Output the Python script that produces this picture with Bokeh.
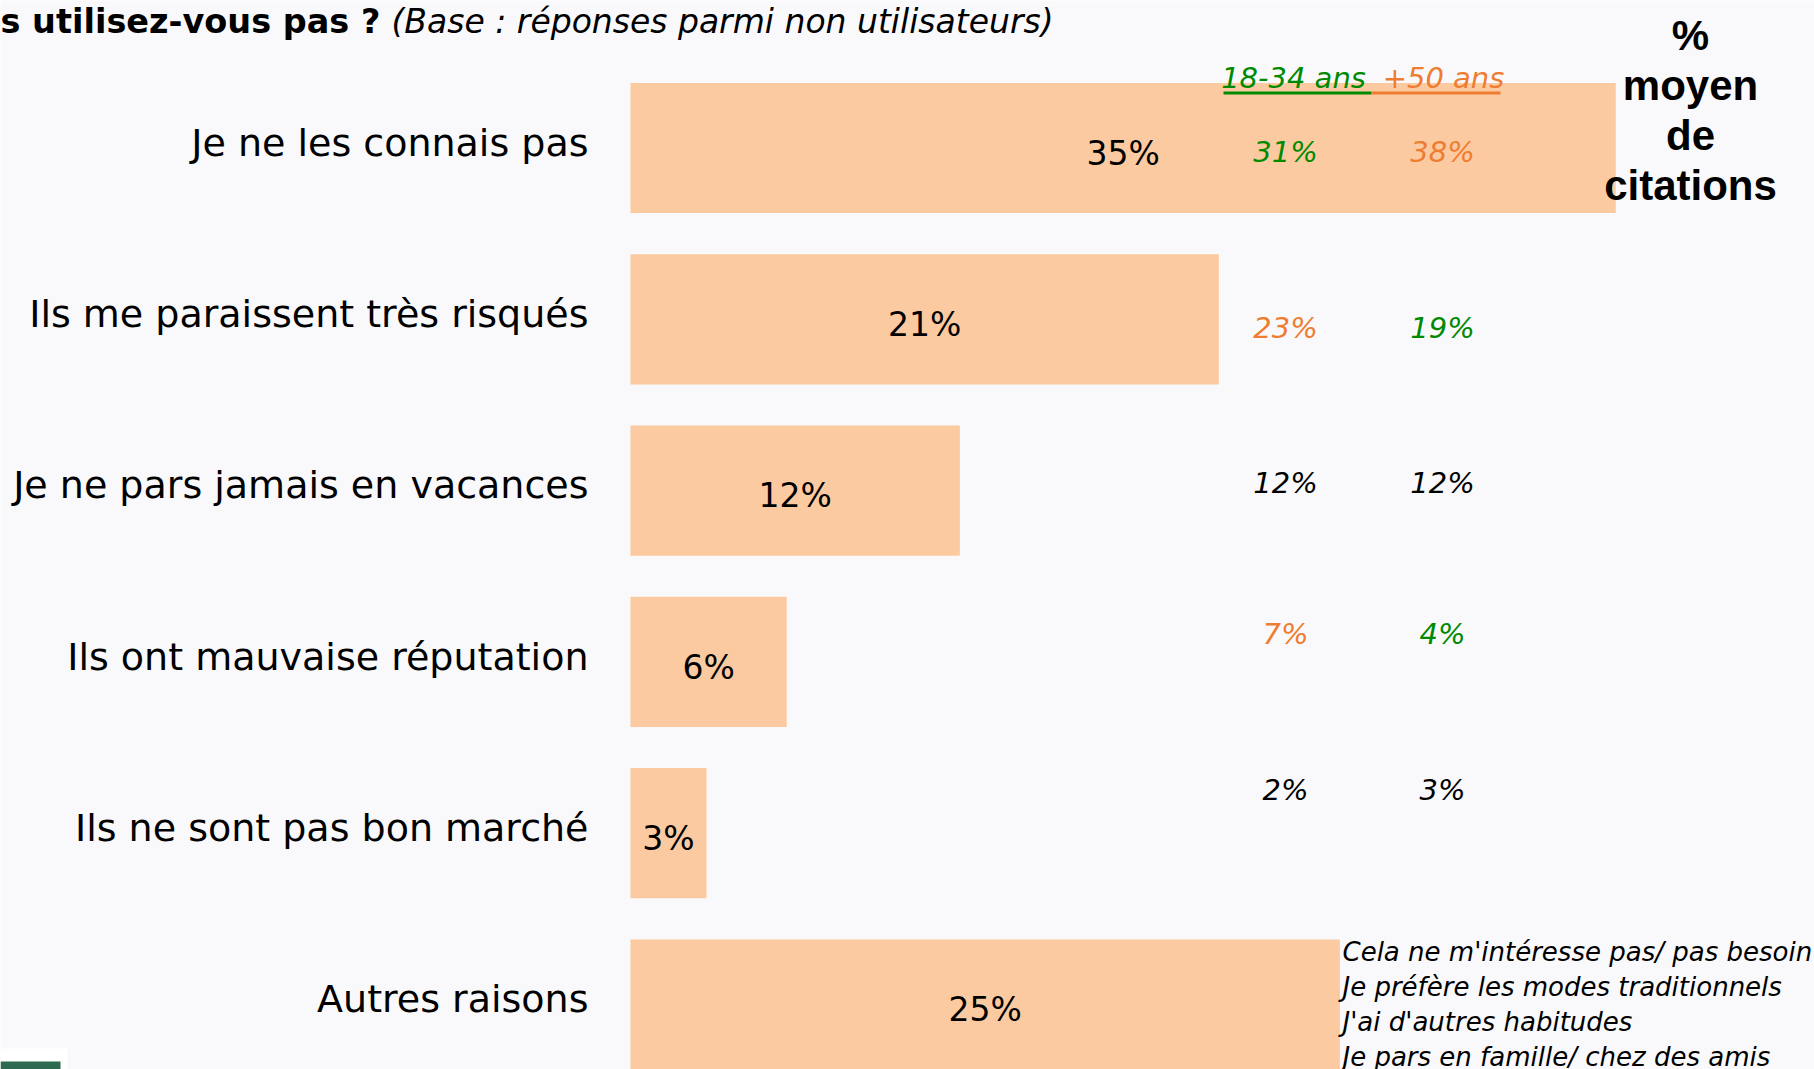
from bokeh.plotting import figure
from bokeh.models import Range1d
from bokeh.core.properties import value
from bokeh.embed import file_html
from bokeh.resources import INLINE

# ---------------- data ----------------
categories = [
    "Je ne les connais pas",
    "Ils me paraissent très risqués",
    "Je ne pars jamais en vacances",
    "Ils ont mauvaise réputation",
    "Ils ne sont pas bon marché",
    "Autres raisons",
]
values = [35.0, 20.9, 11.7, 5.55, 2.7, 25.2]        # bar lengths
value_labels = ["35%", "21%", "12%", "6%", "3%", "25%"]
age_18_34 = [31, 23, 12, 7, 2]
age_50_plus = [38, 19, 12, 4, 3]
group_labels = ["18-34 ans", "+50 ans"]
other_reasons = [
    "Cela ne m'intéresse pas/ pas besoin",
    "Je préfère les modes traditionnels",
    "J'ai d'autres habitudes",
    "Je pars en famille/ chez des amis",
]
title_bold = "s utilisez-vous pas ?"
title_italic = "(Base : réponses parmi non utilisateurs)"
side_title = ["%", "moyen", "de", "citations"]

# ---------------- style / layout ----------------
BG = "#f9f9fb"
BAR = "#fccaa1"
GREEN = "#008a00"
ORANGE = "#ee7d31"
BLACK = "#000000"
FONT = "DejaVu Sans"

W, H = 1814, 1069
PX = 28.15      # pixels per percentage point
X0 = 630        # pixel of 0 %
ROW = 171.3     # pixels per row
Y0 = 147.5      # pixel of the first row centre
SIDE_ROWS = [0.024, 1.05, 1.956, 2.839, 3.745]   # text-box line positions (in row units)


def xd(px):
    return (px - X0) / PX


def yd(py):
    return (py - Y0) / ROW


p = figure(width=W, height=H,
           x_range=Range1d(xd(0), xd(W)), y_range=Range1d(yd(H), yd(0)),
           output_backend="svg", toolbar_location=None,
           x_axis_location=None, y_axis_location=None, min_border=0)
p.grid.visible = False
p.outline_line_color = None
p.background_fill_color = BG
p.border_fill_color = BG

rows = list(range(len(categories)))

# bars
p.hbar(y=rows, left=0, right=values, height=0.76, fill_color=BAR, line_color=None)

# category labels
p.text(x=xd(588), y=[r - 0.03 for r in rows], text=categories,
       text_align="right", text_baseline="middle",
       text_font=value(FONT), text_font_size="38px", text_color=BLACK)

# value labels inside bars
p.text(x=[v / 2 for v in values], y=[r + 0.03 for r in rows],
       text=value_labels, text_align="center", text_baseline="middle",
       text_font=value(FONT), text_font_size="33px", text_color=BLACK)

# age group columns
col_x = [xd(1285), xd(1442)]
n = len(age_18_34)
c1, c2 = [], []
for a, b in zip(age_18_34, age_50_plus):
    if abs(a - b) >= 3:
        c1.append(ORANGE if a > b else GREEN)
        c2.append(ORANGE if b > a else GREEN)
    else:
        c1.append(BLACK)
        c2.append(BLACK)
p.text(x=[col_x[0]] * n, y=SIDE_ROWS, text=[f"{v}%" for v in age_18_34], text_color=c1,
       text_align="center", text_baseline="middle", text_font=value(FONT),
       text_font_style="italic", text_font_size="29px")
p.text(x=[col_x[1]] * n, y=SIDE_ROWS, text=[f"{v}%" for v in age_50_plus], text_color=c2,
       text_align="center", text_baseline="middle", text_font=value(FONT),
       text_font_style="italic", text_font_size="29px")

# group headers (underlined)
p.text(x=[xd(1293), xd(1443)], y=[yd(77.5)] * 2, text=group_labels, text_color=[GREEN, ORANGE],
       text_align="center", text_baseline="middle", text_font=value(FONT),
       text_font_style="italic", text_font_size="29px")
p.segment(x0=[xd(1223), xd(1371)], x1=[xd(1371), xd(1500)],
          y0=[yd(92.5)] * 2, y1=[yd(92.5)] * 2, line_color=[GREEN, ORANGE], line_width=3)

# side title
p.text(x=[xd(1690)] * len(side_title), y=[yd(35 + 50 * i) for i in range(len(side_title))],
       text=side_title, text_align="center", text_baseline="middle",
       text_font=value("Liberation Sans"), text_font_style="bold",
       text_font_size="42px", text_color=BLACK)

# title (cropped question)
p.text(x=[xd(0)], y=[yd(21)], text=[title_bold], text_align="left", text_baseline="middle",
       text_font=value(FONT), text_font_style="bold", text_font_size="33.5px", text_color=BLACK)
p.text(x=[xd(391)], y=[yd(21)], text=[title_italic], text_align="left", text_baseline="middle",
       text_font=value(FONT), text_font_style="italic", text_font_size="33px", text_color=BLACK)

# other reasons detail
p.text(x=[xd(1342)] * len(other_reasons),
       y=[yd(951 + 35 * i) for i in range(len(other_reasons))],
       text=other_reasons, text_align="left", text_baseline="middle",
       text_font=value(FONT), text_font_style="italic", text_font_size="26px", text_color=BLACK)

# bottom-left decoration
p.quad(left=[xd(0)], right=[xd(67)], top=[yd(1048)], bottom=[yd(1069)],
       fill_color="white", line_color=None)
p.quad(left=[xd(0)], right=[xd(60)], top=[yd(1061)], bottom=[yd(1069)],
       fill_color="#2d6a4f", line_color=None)

open("out.html", "w").write(file_html(p, INLINE))
